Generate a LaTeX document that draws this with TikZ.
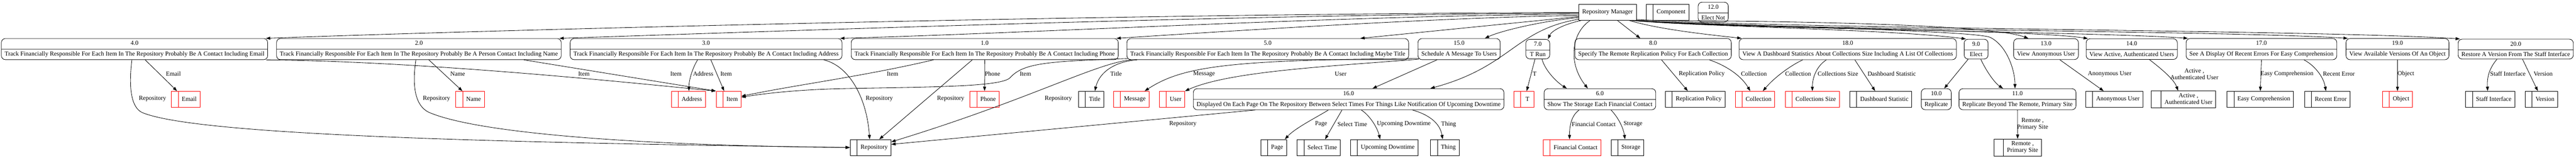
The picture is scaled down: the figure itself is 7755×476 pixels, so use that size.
\documentclass[tikz,border=0pt]{standalone}
\usepackage{fontspec}
\setmainfont{Liberation Serif}
\usetikzlibrary{shapes.multipart,arrows.meta}

\begin{document}
\begin{tikzpicture}[x=1bp,y=-1bp,line width=1.3bp,
  every node/.style={font=\fontsize{18.7}{20}\selectfont},
  process/.style={rectangle split,rectangle split parts=2,draw,rounded corners=12bp,
    minimum width=72bp,inner xsep=10bp,inner ysep=6.5bp,text height=13bp,text depth=5bp},
  store/.style={rectangle split,rectangle split horizontal,rectangle split parts=2,
    rectangle split empty part width=4bp,draw=#1,inner xsep=10bp,inner ysep=15bp,
    text height=13bp,text depth=5bp},
  store/.default=black,
  twoline/.style={text height={},text depth={},inner ysep=5.5bp},
  entity/.style={draw,minimum height=48bp,inner xsep=10bp},
  flow/.style={-{Triangle[length=13bp,width=9bp]}},
  lbl/.style={inner sep=0pt,align=center}]

  \useasboundingbox (0,0) rectangle (7755,476);

  \node[entity] (rm) at (4839.5,37) {Repository Manager};
  \node[store] (comp) at (5020,37) {\nodepart{two}Component};
  \node[process] (p12) at (5157.5,36.5) {12.0\nodepart{two}Elect Not};

  \node[process] (p4) at (405,148) {4.0\nodepart{two}Track Financially Responsible For Each Item In The Repository Probably Be A Contact Including Email};
  \node[process] (p2) at (1261,148) {2.0\nodepart{two}Track Financially Responsible For Each Item In The Repository Probably Be A Person Contact Including Name};
  \node[process] (p3) at (2125.5,148) {3.0\nodepart{two}Track Financially Responsible For Each Item In The Repository Probably Be A Contact Including Address};
  \node[process] (p1) at (2964.5,148) {1.0\nodepart{two}Track Financially Responsible For Each Item In The Repository Probably Be A Contact Including Phone};
  \node[process] (p5) at (3816.5,148) {5.0\nodepart{two}Track Financially Responsible For Each Item In The Repository Probably Be A Contact Including Maybe Title};
  \node[process] (p15) at (4392.5,148) {15.0\nodepart{two}Schedule A Message To Users};
  \node[process] (p7) at (4629.5,148) {7.0\nodepart{two}T Run};
  \node[process] (p8) at (4976.5,148) {8.0\nodepart{two}Specify The Remote Replication Policy For Each Collection};
  \node[process] (p18) at (5562.5,148) {18.0\nodepart{two}View A Dashboard Statistics About Collections Size Including A List Of Collections};
  \node[process] (p9) at (5949,148) {9.0\nodepart{two}Elect};
  \node[process] (p13) at (6159.5,148) {13.0\nodepart{two}View Anonymous User};
  \node[process] (p14) at (6417.5,148) {14.0\nodepart{two}View Active, Authenticated Users};
  \node[process] (p17) at (6808,148) {17.0\nodepart{two}See A Display Of Recent Errors For Easy Comprehension};
  \node[process] (p19) at (7217.5,148) {19.0\nodepart{two}View Available Versions Of An Object};
  \node[process] (p20) at (7573.5,148) {20.0\nodepart{two}Restore A Version From The Staff Interface};

  \node[process] (p16) at (4060,299) {16.0\nodepart{two}Displayed On Each Page On The Repository Between Select Times For Things Like Notification Of Upcoming Downtime};
  \node[process] (p6) at (4816.5,299) {6.0\nodepart{two}Show The Storage Each Financial Contact};
  \node[process] (p10) at (5829,299) {10.0\nodepart{two}Replicate};
  \node[process] (p11) at (6073.5,299) {11.0\nodepart{two}Replicate Beyond The Remote, Primary Site};

  \node[store=red] (email) at (559,299) {\nodepart{two}Email};
  \node[store=red] (name) at (1415,299) {\nodepart{two}Name};
  \node[store=red] (address) at (2072,299) {\nodepart{two}Address};
  \node[store=red] (item) at (2193.5,299) {\nodepart{two}Item};
  \node[store=red] (phone) at (2964,299) {\nodepart{two}Phone};
  \node[store] (title) at (3285,299) {\nodepart{two}Title};
  \node[store=red] (message) at (3405.5,299) {\nodepart{two}Message};
  \node[store=red] (user) at (3528.5,299) {\nodepart{two}User};
  \node[store=red,rectangle split empty part width=12bp] (t) at (4587.5,299) {\nodepart{two}\makebox[20bp]{T}};
  \node[store] (reppolicy) at (5103,299) {\nodepart{two}Replication Policy};
  \node[store=red] (collection) at (5283.5,299) {\nodepart{two}Collection};
  \node[store=red] (collsize) at (5455.5,299) {\nodepart{two}Collections Size};
  \node[store] (dashstat) at (5662,299) {\nodepart{two}Dashboard Statistic};
  \node[store] (anonuser) at (6365,299) {\nodepart{two}Anonymous User};
  \node[store,twoline] (activeuser) at (6573.5,299.5) {\nodepart{two}\begin{tabular}{@{}c@{}}Active ,\\Authenticated User\end{tabular}};
  \node[store] (easycomp) at (6804.5,299) {\nodepart{two}Easy Comprehension};
  \node[store] (recenterr) at (7006,299) {\nodepart{two}Recent Error};
  \node[store=red] (object) at (7217.5,299) {\nodepart{two}Object};
  \node[store] (staffint) at (7496.5,299) {\nodepart{two}Staff Interface};
  \node[store] (version) at (7651,299) {\nodepart{two}Version};

  \node[store] (repo) at (2621,444.5) {\nodepart{two}Repository};
  \node[store] (page) at (3834,444.5) {\nodepart{two}Page};
  \node[store] (seltime) at (3970,444.5) {\nodepart{two}Select Time};
  \node[store] (downtime) at (4167,444.5) {\nodepart{two}Upcoming Downtime};
  \node[store] (thing) at (4349.5,444.5) {\nodepart{two}Thing};
  \node[store=red] (fincontact) at (4732.5,444.5) {\nodepart{two}Financial Contact};
  \node[store] (storage) at (4899,444.5) {\nodepart{two}Storage};
  \node[store,twoline] (remote) at (6074,444.5) {\nodepart{two}\begin{tabular}{@{}c@{}}Remote ,\\Primary Site\end{tabular}};

  \draw[flow] ([yshift=-1bp]rm.west) .. controls (3500,40) and (1600,86) .. ([xshift=-6bp]p4.north east);
  \draw[flow] ([yshift=-3bp]rm.west) .. controls (3800,42) and (2400,92) .. ([xshift=-6bp]p2.north east);
  \draw[flow] ([yshift=-6bp]rm.west) .. controls (4100,45) and (3100,100) .. ([xshift=-6bp]p3.north east);
  \draw[flow] ([yshift=-10bp]rm.west) .. controls (4400,50) and (3750,90) .. ([xshift=-6bp]p1.north east);
  \draw[flow] ([yshift=-13bp]rm.west) -- ([xshift=278.5bp]p5.north);
  \draw[flow] ([yshift=-16bp]rm.west) .. controls (4650,62) and (4520,92) .. ([xshift=77.5bp]p15.north);
  \draw[flow] ([yshift=-21bp]rm.west) .. controls (4560,90) and (4550,200) .. ([xshift=246bp]p16.north);
  \draw[flow] ([xshift=8bp]rm.south west) .. controls (4700,75) and (4670,95) .. ([xshift=-6bp]p7.north east);
  \draw[flow] ([xshift=-52.5bp]rm.south) .. controls (4730,100) and (4720,190) .. ([xshift=-36.5bp]p6.north);
  \draw[flow] ([xshift=29.5bp]rm.south) -- ([xshift=-38.5bp]p8.north);

  \draw[flow] ([xshift=-22bp]rm.south east) .. controls (5000,90) and (5150,105) .. ([xshift=8bp]p18.north west);
  \draw[flow] ([xshift=-17bp]rm.south east) .. controls (5100,80) and (5700,88) .. ([xshift=6bp]p9.north west);
  \draw[flow] ([xshift=-14bp]rm.south east) .. controls (5300,80) and (5930,92) .. (5990,112) .. controls (6040,135) and (6066,210) .. ([xshift=-7.5bp]p11.north);
  \draw[flow] ([xshift=-10bp]rm.south east) .. controls (5200,62) and (5980,68) .. ([xshift=-53bp]p13.north);
  \draw[flow] ([xshift=-7bp]rm.south east) .. controls (5200,85) and (6100,88) .. ([xshift=6bp]p14.north west);
  \draw[flow] ([xshift=-4bp]rm.south east) .. controls (5200,88) and (6300,95) .. ([xshift=6bp]p17.north west);
  \draw[flow] ([xshift=-2bp]rm.south east) .. controls (5300,90) and (6700,92) .. ([xshift=6bp]p19.north west);
  \draw[flow] ([yshift=3bp]rm.south east) .. controls (5400,88) and (7000,90) .. ([xshift=6bp]p20.north west);

  \draw[flow] ([xshift=32bp]p4.south) -- ([xshift=-26bp]email.north) node[lbl] at (522,223) {Email};
  \draw[flow] ([xshift=-8bp]p4.south) .. controls (385,280) and (400,328) .. (430,340) .. controls (600,408) and (1500,430) .. (repo.west) node[lbl] at (459,298) {Repository};
  \draw[flow] ([xshift=-5bp]p4.south east) .. controls (1300,185) and (1950,255) .. (item.north west) node[lbl] at (1758,223) {Item};

  \draw[flow] ([xshift=30bp]p2.south) -- ([xshift=-23bp]name.north) node[lbl] at (1378,223) {Name};
  \draw[flow] ([xshift=-9bp]p2.south) .. controls (1240,260) and (1250,318) .. (1290,338) .. controls (1450,408) and (2000,440) .. (repo.west) node[lbl] at (1314,298) {Repository};
  \draw[flow] ([xshift=316bp]p2.south) -- (item.north west) node[lbl] at (2035,223) {Item};

  \draw[flow] ([xshift=-25.5bp]p3.south) .. controls (2085,205) and (2074,240) .. ([xshift=2bp]address.north) node[lbl] at (2117,223) {Address};
  \draw[flow] ([xshift=14.5bp]p3.south) -- ([xshift=-13.5bp]item.north) node[lbl] at (2186,223) {Item};
  \draw[flow] ([xshift=354.5bp]p3.south) .. controls (2560,200) and (2610,300) .. ([xshift=-3bp]repo.north) node[lbl] at (2647,298) {Repository};

  \draw[flow] ([xshift=-154.5bp]p1.south) .. controls (2600,230) and (2400,255) .. ([yshift=9bp]item.east) node[lbl] at (2687,223) {Item};
  \draw[flow] ([xshift=-37.5bp]p1.south) -- ([xshift=26bp]repo.north) node[lbl] at (2862,298) {Repository};
  \draw[flow] (p1.south) -- (phone.north) node[lbl] at (2988,223) {Phone};

  \draw[flow] ([xshift=31bp]p5.south west) .. controls (3360,185) and (3310,215) .. ([xshift=11bp]title.north) node[lbl] at (3360,223) {Title};
  \draw[flow] ([shift={(3bp,4bp)}]p5.south west) .. controls (3150,185) and (3080,190) .. (3040,235) .. controls (3010,262) and (2800,262) .. (2540,267) .. controls (2400,270) and (2300,282) .. ([yshift=6bp]item.east) node[lbl] at (3087,223) {Item};
  \draw[flow] ([xshift=13bp]p5.south west) .. controls (3300,190) and (3100,300) .. ([yshift=17bp]repo.east) node[lbl] at (3186,298) {Repository};

  \draw[flow] ([shift={(3bp,4bp)}]p15.south west) .. controls (3700,180) and (3560,200) .. ([xshift=40.5bp]message.north) node[lbl] at (3625,223) {Message};
  \draw[flow] ([shift={(3bp,2bp)}]p15.south west) .. controls (4000,200) and (3700,215) .. (user.north east) node[lbl] at (4036,223) {User};
  \draw[flow] ([xshift=-66.5bp]p15.south) -- ([xshift=72bp]p16.north);

  \draw[flow] ([xshift=-8.5bp]p7.south) -- ([xshift=8.5bp]t.north) node[lbl] at (4620,223) {T};
  \draw[flow] ([xshift=12.5bp]p7.south) .. controls (4652,215) and (4690,250) .. ([xshift=-99.5bp]p6.north);

  \draw[flow] ([xshift=25.5bp]p8.south) -- ([xshift=-22bp]reppolicy.north) node[lbl] at (5123,223) {Replication Policy};
  \draw[flow] ([xshift=169.5bp]p8.south) .. controls (5190,195) and (5240,225) .. ([xshift=-14.5bp]collection.north) node[lbl] at (5280,223) {Collection};

  \draw[flow] ([xshift=-135.5bp]p18.south) .. controls (5395,195) and (5345,230) .. ([xshift=23.5bp]collection.north) node[lbl] at (5413,223) {Collection};
  \draw[flow] ([xshift=-64.5bp]p18.south) .. controls (5468,200) and (5456,235) .. ([xshift=0.5bp]collsize.north) node[lbl] at (5533,223) {Collections Size};
  \draw[flow] ([xshift=21.5bp]p18.south) -- ([xshift=-17bp]dashstat.north) node[lbl] at (5695,223) {Dashboard Statistic};

  \draw[flow] ([xshift=-24bp]p9.south) -- ([xshift=24bp]p10.north);
  \draw[flow] ([xshift=14bp]p9.south) .. controls (5980,215) and (6005,250) .. ([xshift=-43.5bp]p11.north);

  \draw[flow] ([xshift=-61bp]p16.south) .. controls (3970,350) and (3900,385) .. ([xshift=34bp]page.north) node[lbl] at (3977,374) {Page};
  \draw[flow] ([xshift=-20bp]p16.south) -- ([xshift=19bp]seltime.north) node[lbl] at (4071,374) {Select Time};
  \draw[flow] ([xshift=38bp]p16.south) .. controls (4120,345) and (4145,380) .. ([xshift=-12bp]downtime.north) node[lbl] at (4226,374) {Upcoming Downtime};
  \draw[flow] ([xshift=192bp]p16.south) .. controls (4300,345) and (4335,370) .. ([xshift=-6.5bp]thing.north) node[lbl] at (4361,374) {Thing};
  \draw[flow] ([xshift=-281bp]p16.south) -- ([yshift=9.5bp]repo.east) node[lbl] at (3561,374) {Repository};

  \draw[flow] ([xshift=-62.5bp]p6.south) .. controls (4728,350) and (4725,385) .. ([xshift=-7.5bp]fincontact.north) node[lbl] at (4798,374) {Financial Contact};
  \draw[flow] ([xshift=33.5bp]p6.south) .. controls (4872,355) and (4887,385) .. ([xshift=-7bp]storage.north) node[lbl] at (4916,374) {Storage};

  \draw[flow] (p11.south) -- (remote.north) node[lbl] at (6119,374) {Remote ,\\Primary Site};

  \draw[flow] ([xshift=41.5bp]p13.south) -- ([xshift=-32bp]anonuser.north) node[lbl] at (6351,223) {Anonymous User};

  \draw[flow] ([xshift=53.5bp]p14.south) .. controls (6510,210) and (6545,240) .. ([xshift=-16.5bp]activeuser.north) node[lbl] at (6606,223) {Active ,\\Authenticated User};

  \draw[flow] (p17.south) -- (easycomp.north) node[lbl] at (6885,223) {Easy Comprehension};
  \draw[flow] ([xshift=128bp]p17.south) .. controls (6965,195) and (6995,230) .. ([xshift=-4bp]recenterr.north) node[lbl] at (7041,223) {Recent Error};

  \draw[flow] (p19.south) -- (object.north) node[lbl] at (7243,223) {Object};

  \draw[flow] ([xshift=-56.5bp]p20.south) .. controls (7490,210) and (7487,240) .. ([xshift=-7.5bp]staffint.north) node[lbl] at (7550,223) {Staff Interface};
  \draw[flow] ([xshift=20.5bp]p20.south) -- ([xshift=-11bp]version.north) node[lbl] at (7656,223) {Version};
\end{tikzpicture}
\end{document}
